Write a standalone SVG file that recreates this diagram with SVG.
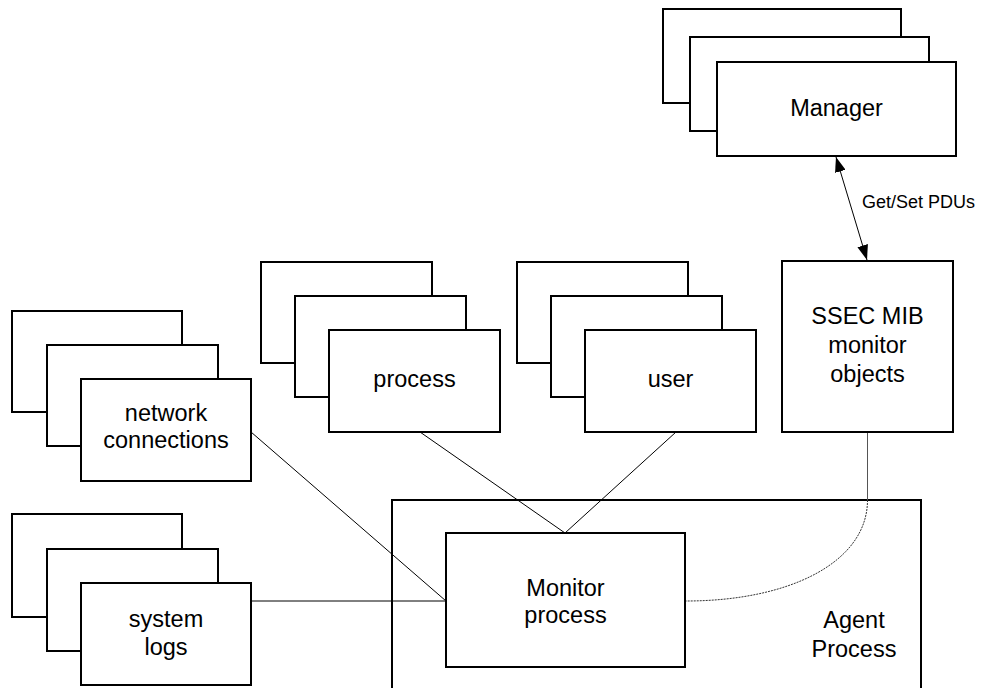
<svg xmlns="http://www.w3.org/2000/svg" width="984" height="688" viewBox="0 0 984 688">
  <defs>
    <style>
      .box { fill: #ffffff; stroke: #000000; stroke-width: 2; }
      .frame { fill: none; stroke: #000000; stroke-width: 2; }
      .link { fill: none; stroke: #000000; stroke-width: 1; }
      .dotted { fill: none; stroke: #333333; stroke-width: 1; stroke-dasharray: 2 1; }
      .label { font-family: "Liberation Sans", Arial, sans-serif; font-size: 23.5px; fill: #000000; text-anchor: middle; }
      .small { font-family: "Liberation Sans", Arial, sans-serif; font-size: 18px; fill: #000000; }
    </style>
    <marker id="head" viewBox="0 0 15 11" refX="15" refY="5.5" markerWidth="15" markerHeight="11" markerUnits="userSpaceOnUse" orient="auto-start-reverse">
      <path d="M0,0 L15,5.5 L0,11 Z" fill="#000000"/>
    </marker>
  </defs>

  <rect width="984" height="688" fill="#ffffff"/>

  <!-- agent container -->
  <g id="agent-process">
    <rect class="frame" x="392" y="500" width="529" height="200"/>
    <text class="label" x="854" y="628">Agent</text>
    <text class="label" x="854" y="657">Process</text>
  </g>

  <!-- connectors -->
  <g id="connectors">
    <line class="link" x1="836" y1="157" x2="867" y2="260" marker-start="url(#head)" marker-end="url(#head)"/>
    <line class="link" x1="420" y1="432" x2="565" y2="533"/>
    <line class="link" x1="676" y1="432" x2="565" y2="533"/>
    <line class="link" x1="251" y1="432" x2="446" y2="601"/>
    <line class="link" x1="251" y1="601" x2="446" y2="601" stroke="#222222"/>
    <path d="M867.5,432 L867.5,500" stroke="#555555" stroke-width="1" fill="none"/>
    <path class="dotted" d="M867.5,500 C867.5,562 790,601 686,601"/>
    <text class="small" x="862" y="208">Get/Set PDUs</text>
  </g>

  <g id="manager">
    <rect class="box" x="663" y="9" width="238" height="94"/>
    <rect class="box" x="690" y="37" width="239" height="94"/>
    <rect class="box" x="717" y="62" width="239" height="94"/>
    <text class="label" x="836.5" y="116">Manager</text>
  </g>

  <g id="ssec-mib">
    <rect class="box" x="782" y="261" width="171" height="171"/>
    <text class="label" x="867.5" y="324">SSEC MIB</text>
    <text class="label" x="867.5" y="353">monitor</text>
    <text class="label" x="867.5" y="382">objects</text>
  </g>

  <g id="process">
    <rect class="box" x="261" y="262" width="171" height="101"/>
    <rect class="box" x="295" y="296" width="171" height="101"/>
    <rect class="box" x="329" y="330" width="171" height="102"/>
    <text class="label" x="414.5" y="387">process</text>
  </g>

  <g id="user">
    <rect class="box" x="517" y="262" width="171" height="101"/>
    <rect class="box" x="551" y="296" width="171" height="101"/>
    <rect class="box" x="585" y="330" width="171" height="102"/>
    <text class="label" x="670.5" y="387">user</text>
  </g>

  <g id="network-connections">
    <rect class="box" x="12" y="311" width="170" height="101"/>
    <rect class="box" x="47" y="345" width="171" height="101"/>
    <rect class="box" x="81" y="379" width="170" height="102"/>
    <text class="label" x="166" y="421">network</text>
    <text class="label" x="166" y="448">connections</text>
  </g>

  <g id="system-logs">
    <rect class="box" x="12" y="514" width="170" height="103"/>
    <rect class="box" x="47" y="549" width="171" height="102"/>
    <rect class="box" x="81" y="583" width="170" height="102"/>
    <text class="label" x="166" y="627">system</text>
    <text class="label" x="166" y="655">logs</text>
  </g>

  <g id="monitor-process">
    <rect class="box" x="446" y="533" width="239" height="134"/>
    <text class="label" x="565.5" y="596">Monitor</text>
    <text class="label" x="565.5" y="623">process</text>
  </g>
</svg>
